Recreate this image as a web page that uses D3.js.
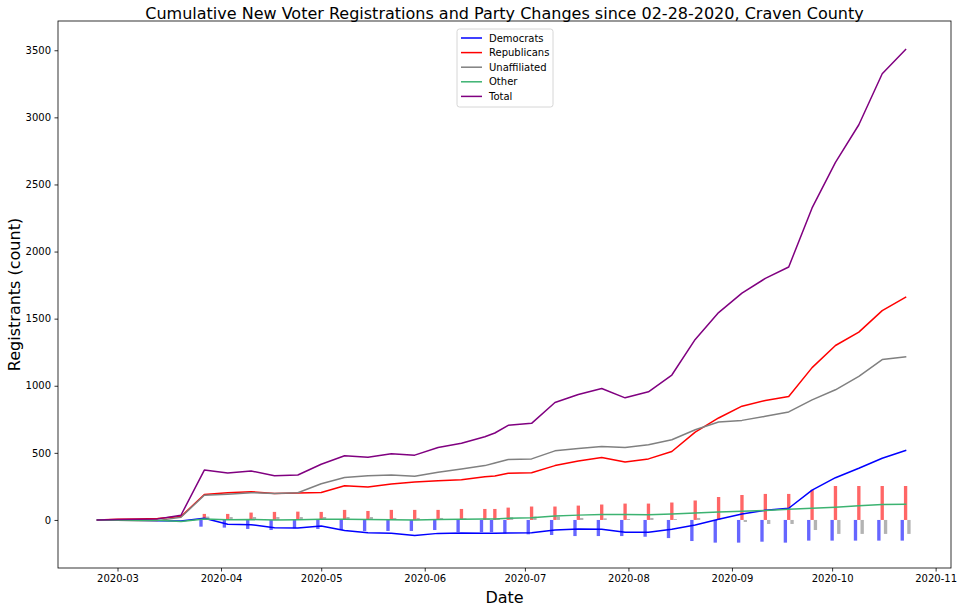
<!DOCTYPE html>
<html><head><meta charset="utf-8">
<script src="https://cdn.jsdelivr.net/npm/d3@7"></script>
<style>body{margin:0;background:#fff} text{font-family:"DejaVu Sans",sans-serif}</style>
</head><body><svg id="c" width="960" height="611"></svg>
<script>
const dates = ["2020-02-24","2020-03-01","2020-03-07","2020-03-13","2020-03-20","2020-03-27","2020-04-03","2020-04-10","2020-04-17","2020-04-24","2020-05-01","2020-05-08","2020-05-15","2020-05-22","2020-05-29","2020-06-05","2020-06-12","2020-06-19","2020-06-22","2020-06-26","2020-07-03","2020-07-10","2020-07-17","2020-07-24","2020-07-31","2020-08-07","2020-08-14","2020-08-21","2020-08-28","2020-09-04","2020-09-11","2020-09-18","2020-09-25","2020-10-02","2020-10-09","2020-10-16","2020-10-23"];
const democrats = [0,-2,-3,-5,-7,12,-32,-35,-58,-60,-45,-78,-95,-99,-115,-100,-97,-99,-99,-97,-95,-75,-68,-70,-92,-92,-70,-37,5,45,72,87,222,315,385,460,518];
const republicans = [0,5,8,10,25,190,202,210,198,200,205,255,245,268,283,293,300,322,328,348,352,405,440,465,432,455,510,655,760,848,890,920,1135,1300,1400,1560,1660];
const unaffiliated = [0,-3,-5,-5,20,184,192,203,198,203,270,316,330,335,325,355,380,405,425,450,455,515,532,548,540,560,598,672,730,742,772,805,895,970,1070,1195,1215];
const other = [0,0,-2,-3,-12,8,2,3,0,2,5,5,3,2,0,3,5,7,8,12,17,30,36,40,40,38,45,52,60,65,70,80,88,95,105,115,117];
const total = [0,3,5,8,35,372,350,365,330,335,415,478,468,493,483,540,572,620,648,705,720,875,935,980,910,955,1080,1345,1545,1690,1800,1885,2325,2665,2945,3325,3505];

const barDates = ["2020-03-27","2020-04-03","2020-04-10","2020-04-17","2020-04-24","2020-05-01","2020-05-08","2020-05-15","2020-05-22","2020-05-29","2020-06-05","2020-06-12","2020-06-19","2020-06-22","2020-06-26","2020-07-03","2020-07-10","2020-07-17","2020-07-24","2020-07-31","2020-08-07","2020-08-14","2020-08-21","2020-08-28","2020-09-04","2020-09-11","2020-09-18","2020-09-25","2020-10-02","2020-10-09","2020-10-16","2020-10-23"];
const demChanges = [-50,-57,-67,-75,-62,-67,-75,-82,-82,-82,-75,-90,-90,-90,-100,-107,-112,-120,-120,-120,-125,-135,-157,-169,-169,-162,-169,-154,-154,-154,-154,-154];
const repChanges = [45,45,55,60,62,60,75,67,75,75,75,82,82,82,92,100,100,107,115,122,122,130,145,171,186,194,194,224,253,253,253,253];
const unaChanges = [25,22,22,22,22,22,22,22,15,15,15,12,10,10,20,25,25,15,12,7,15,7,15,0,-15,-30,-30,-75,-104,-104,-104,-104];

const yTicks = [0,500,1000,1500,2000,2500,3000,3500];
const xTickMonths = ["2020-03-01","2020-04-01","2020-05-01","2020-06-01","2020-07-01","2020-08-01","2020-09-01","2020-10-01","2020-11-01"];
const seriesNames = ["Democrats","Republicans","Unaffiliated","Other","Total"];
const seriesColors = ["#0000ff","#ff0000","#808080","mediumseagreen","#800080"];
const barColors = ["#6666ff","#ff6666","#b3b3b3"];

const L=58, R=951, T=21, B=568;
const DAY = 864e5;
const parse = d3.utcParse("%Y-%m-%d");
const base = Date.UTC(2020,2,1);
const x = d3.scaleUtc().domain([new Date(base - 17.82*DAY), new Date(base + 249.6*DAY)]).range([L,R]);
const y = d3.scaleLinear().domain([-358, 3718]).range([B,T]);

const svg = d3.select("#c");
const g = svg.append("g");

// bars
const barSets = [demChanges, repChanges, unaChanges];
const offsets = [-1, 0, 1];
barSets.forEach((vals, si) => {
  g.append("g").selectAll("rect").data(vals).join("rect")
    .attr("x", (v,i) => x(new Date(+parse(barDates[i]) + (offsets[si]-0.5)*DAY)))
    .attr("width", (v,i) => x(new Date(+parse(barDates[i]) + (offsets[si]+0.5)*DAY)) - x(new Date(+parse(barDates[i]) + (offsets[si]-0.5)*DAY)))
    .attr("y", v => Math.min(y(v), y(0)))
    .attr("height", v => Math.abs(y(v) - y(0)))
    .attr("fill", barColors[si]);
});

// lines
const allSeries = [democrats, republicans, unaffiliated, other, total];
const line = d3.line().x((v,i) => x(parse(dates[i]))).y(v => y(v));
allSeries.forEach((vals, si) => {
  g.append("path").datum(vals).attr("d", line)
    .attr("fill","none").attr("stroke", seriesColors[si]).attr("stroke-width",1.5)
    .attr("stroke-linejoin","round").attr("stroke-linecap","square");
});

// axes
const xAxis = d3.axisBottom(x).tickValues(xTickMonths.map(parse)).tickFormat(d3.utcFormat("%Y-%m")).tickSize(3.5).tickPadding(3.5);
const yAxis = d3.axisLeft(y).tickValues(yTicks).tickFormat(d3.format("d")).tickSize(3.5).tickPadding(3.5);
const gx = svg.append("g").attr("transform",`translate(0,${B})`).call(xAxis);
const gy = svg.append("g").attr("transform",`translate(${L},0)`).call(yAxis);
[gx,gy].forEach(a => {
  a.select(".domain").remove();
  a.selectAll("text").attr("font-size","10px").attr("font-family","DejaVu Sans").attr("fill","#000");
  a.selectAll("line").attr("stroke","#000").attr("stroke-width",0.8);
});
svg.append("rect").attr("x",L).attr("y",T).attr("width",R-L).attr("height",B-T)
  .attr("fill","none").attr("stroke","#000").attr("stroke-width",0.8);

// labels
svg.append("text").attr("x",(L+R)/2).attr("y",19).attr("text-anchor","middle").attr("font-size","16px")
  .text("Cumulative New Voter Registrations and Party Changes since 02-28-2020, Craven County");
svg.append("text").attr("x",(L+R)/2).attr("y",603).attr("text-anchor","middle").attr("font-size","16px").text("Date");
svg.append("text").attr("transform",`translate(20,${(T+B)/2}) rotate(-90)`).attr("text-anchor","middle").attr("font-size","16px").text("Registrants (count)");

// legend
const lg = svg.append("g").attr("transform","translate(457,29)");
lg.append("rect").attr("width",96).attr("height",78).attr("rx",2.5).attr("fill","#fff").attr("fill-opacity",0.8).attr("stroke","#cccccc").attr("stroke-width",0.8);
seriesNames.forEach((n,i) => {
  const yy = 9 + i*14.6;
  lg.append("line").attr("x1",4).attr("x2",25).attr("y1",yy).attr("y2",yy).attr("stroke",seriesColors[i]).attr("stroke-width",1.5);
  lg.append("text").attr("x",32).attr("y",yy+3.6).attr("font-size","10px").text(n);
});
</script></body></html>
